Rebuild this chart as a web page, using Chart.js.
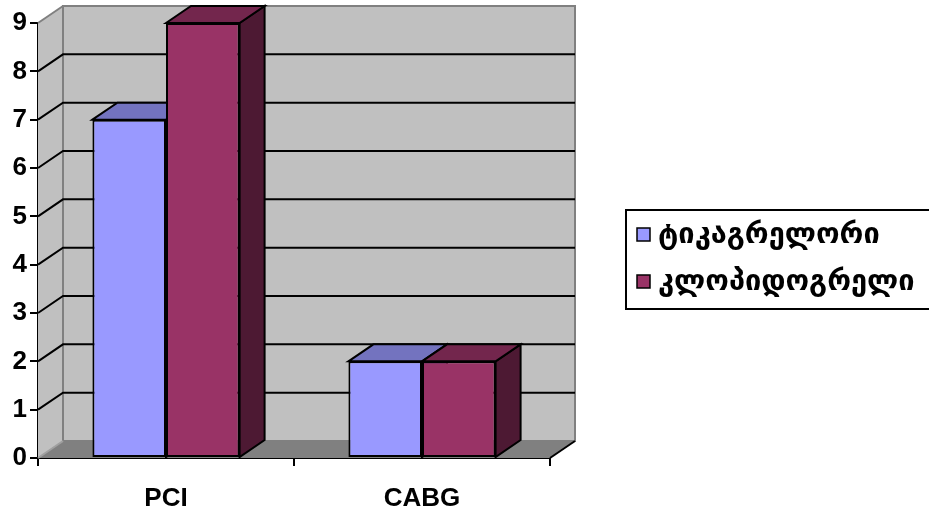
<!DOCTYPE html>
<html>
<head>
<meta charset="utf-8">
<script src="https://cdn.jsdelivr.net/npm/chart.js@4/dist/chart.umd.min.js"></script>
<style>
  html, body { margin: 0; padding: 0; background: #fff; }
  #wrap { width: 929px; height: 512px; position: relative; }
</style>
</head>
<body>
<div id="wrap"><canvas id="chart" width="929" height="512"></canvas></div>
<script>
const categories = ["PCI", "CABG"];
const seriesNames = ["ტიკაგრელორი", "კლოპიდოგრელი"];
const ticagrelor = [7, 2];
const clopidogrel = [9, 2];
const yTicks = [0, 1, 2, 3, 4, 5, 6, 7, 8, 9];

const frontColors = ["#9999ff", "#993366"];
const topColors = ["#7373bf", "#73264d"];
const sideColors = ["#4d4d80", "#4d1933"];

// depth of the fake 3D box
const DX = 25, DY = 17;

const threeD = {
  id: "threeD",
  beforeDatasetsDraw(chart) {
    const ctx = chart.ctx;
    const a = chart.chartArea;
    const y = chart.scales.y;
    const L = a.left, R = a.right, T = a.top, B = a.bottom;

    ctx.save();
    ctx.lineJoin = "miter";

    // back wall
    ctx.fillStyle = "#c0c0c0";
    ctx.fillRect(L + DX, T - DY, R - L, B - T);
    // left wall
    ctx.beginPath();
    ctx.moveTo(L, T); ctx.lineTo(L + DX, T - DY); ctx.lineTo(L + DX, B - DY); ctx.lineTo(L, B);
    ctx.closePath();
    ctx.fill();
    // floor
    ctx.fillStyle = "#808080";
    ctx.beginPath();
    ctx.moveTo(L, B); ctx.lineTo(R, B); ctx.lineTo(R + DX, B - DY); ctx.lineTo(L + DX, B - DY);
    ctx.closePath();
    ctx.fill();

    // wall edges
    ctx.strokeStyle = "#808080";
    ctx.lineWidth = 2;
    ctx.strokeRect(L + DX, T - DY, R - L, B - T);
    ctx.beginPath();
    ctx.moveTo(L, T); ctx.lineTo(L + DX, T - DY);
    ctx.stroke();
    ctx.strokeStyle = "#a0a0a0";
    ctx.beginPath();
    ctx.moveTo(L, B); ctx.lineTo(L + DX, B - DY);
    ctx.stroke();

    // gridlines on back and left walls
    ctx.strokeStyle = "#000";
    ctx.lineWidth = 2;
    yTicks.forEach((v) => {
      if (v === 0 || v === yTicks[yTicks.length - 1]) return;
      const py = y.getPixelForValue(v);
      ctx.beginPath();
      ctx.moveTo(L, py); ctx.lineTo(L + DX, py - DY); ctx.lineTo(R + DX, py - DY);
      ctx.stroke();
    });
    // floor right edge
    ctx.beginPath();
    ctx.moveTo(R, B); ctx.lineTo(R + DX, B - DY);
    ctx.stroke();

    // bar tops and sides
    ctx.lineWidth = 2;
    ctx.strokeStyle = "#000";
    chart.data.datasets.forEach((ds, i) => {
      chart.getDatasetMeta(i).data.forEach((bar) => {
        const x1 = bar.x - bar.width / 2, x2 = bar.x + bar.width / 2;
        const top = bar.y, base = bar.base;
        ctx.fillStyle = sideColors[i];
        ctx.beginPath();
        ctx.moveTo(x2, top); ctx.lineTo(x2 + DX, top - DY); ctx.lineTo(x2 + DX, base - DY); ctx.lineTo(x2, base);
        ctx.closePath();
        ctx.fill(); ctx.stroke();
        ctx.fillStyle = topColors[i];
        ctx.beginPath();
        ctx.moveTo(x1, top); ctx.lineTo(x1 + DX, top - DY); ctx.lineTo(x2 + DX, top - DY); ctx.lineTo(x2, top);
        ctx.closePath();
        ctx.fill(); ctx.stroke();
      });
    });
    ctx.restore();
  },
  afterDraw(chart) {
    // legend box
    const ctx = chart.ctx;
    ctx.save();
    ctx.strokeStyle = "#000";
    ctx.lineWidth = 2;
    ctx.strokeRect(626, 210, 310, 99);
    ctx.font = "bold 29px 'DejaVu Sans'";
    ctx.textBaseline = "middle";
    ctx.textAlign = "left";
    seriesNames.forEach((name, i) => {
      const cy = 235 + i * 47;
      ctx.fillStyle = frontColors[i];
      ctx.fillRect(637, cy - 7, 13, 13);
      ctx.lineWidth = 1.5;
      ctx.strokeRect(637, cy - 7, 13, 13);
      ctx.fillStyle = "#000";
      ctx.fillText(name, 658, cy);
    });
    ctx.restore();
  }
};

const tickFont = { family: "'Liberation Sans', Arial, sans-serif", size: 26, weight: "bold" };

new Chart(document.getElementById("chart"), {
  type: "bar",
  data: {
    labels: categories,
    datasets: [
      { label: seriesNames[0], data: ticagrelor, backgroundColor: frontColors[0], borderColor: "#000", borderWidth: 2, borderSkipped: false },
      { label: seriesNames[1], data: clopidogrel, backgroundColor: frontColors[1], borderColor: "#000", borderWidth: 2, borderSkipped: false },
    ],
  },
  options: {
    responsive: false,
    animation: false,
    layout: { padding: { top: 23, right: 379, left: 0, bottom: 0 } },
    datasets: { bar: { categoryPercentage: 0.575, barPercentage: 1 } },
    plugins: { legend: { display: false }, tooltip: { enabled: false } },
    scales: {
      x: {
        afterFit: (s) => { s.height = 54; },
        grid: { offset: true, drawOnChartArea: false, color: "#000", lineWidth: 2, tickLength: 8 },
        border: { color: "#000", width: 2 },
        ticks: { color: "#000", font: tickFont, padding: 17 },
      },
      y: {
        min: 0,
        max: 9,
        afterFit: (s) => { s.width = 38; },
        grid: { drawOnChartArea: false, color: "#000", lineWidth: 2, tickLength: 8 },
        border: { color: "#000", width: 2 },
        ticks: { stepSize: 1, color: "#000", font: tickFont, padding: 3 },
      },
    },
  },
  plugins: [threeD],
});
</script>
</body>
</html>
